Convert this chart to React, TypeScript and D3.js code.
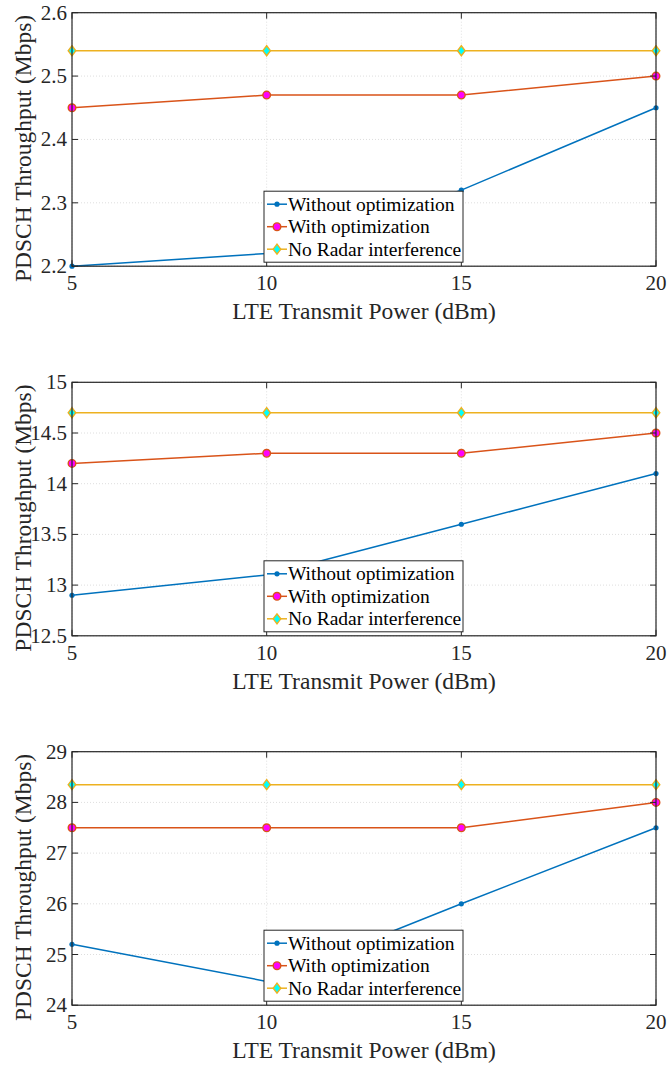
import React from 'react';
import * as d3 from 'd3';

// transmit power (dBm)
const powers = [5, 10, 15, 20];

// throughput per panel (Mbps)
const withoutOpt1 = [2.2, 2.22, 2.32, 2.45];
const withOpt1 = [2.45, 2.47, 2.47, 2.5];
const noRadar1 = [2.54, 2.54, 2.54, 2.54];

const withoutOpt2 = [12.9, 13.1, 13.6, 14.1];
const withOpt2 = [14.2, 14.3, 14.3, 14.5];
const noRadar2 = [14.7, 14.7, 14.7, 14.7];

const withoutOpt3 = [25.2, 24.47, 26, 27.5];
const withOpt3 = [27.5, 27.5, 27.5, 28];
const noRadar3 = [28.35, 28.35, 28.35, 28.35];

const yTicks1 = [2.2, 2.3, 2.4, 2.5, 2.6];
const yTicks2 = [12.5, 13, 13.5, 14, 14.5, 15];
const yTicks3 = [24, 25, 26, 27, 28, 29];

const seriesNames = ['Without optimization', 'With optimization', 'No Radar interference'];
const xLabel = 'LTE Transmit Power (dBm)';
const yLabel = 'PDSCH Throughput (Mbps)';

const BLUE = '#0072BD';
const ORANGE = '#D95319';
const YELLOW = '#EDB120';
const FONT = 'Liberation Serif';

const W = 668;
const H = 1067;
const left = 72;
const right = 656;
const plotH = 253.5;
const tops = [12.7, 382.3, 751.7];

const panels = [
  { top: tops[0], ticks: yTicks1, series: [withoutOpt1, withOpt1, noRadar1] },
  { top: tops[1], ticks: yTicks2, series: [withoutOpt2, withOpt2, noRadar2] },
  { top: tops[2], ticks: yTicks3, series: [withoutOpt3, withOpt3, noRadar3] },
];

const colors = [BLUE, ORANGE, YELLOW];

const Marker = ({ kind, x, y }: { kind: number; x: number; y: number }) => {
  if (kind === 0) return <circle cx={x} cy={y} r={2.6} fill={BLUE} />;
  if (kind === 1)
    return <circle cx={x} cy={y} r={3.8} fill="#ff00ff" stroke={ORANGE} strokeWidth={1.4} />;
  return (
    <path
      d={`M${x},${y - 5}L${x + 3.8},${y}L${x},${y + 5}L${x - 3.8},${y}Z`}
      fill="#00ffff"
      stroke={YELLOW}
      strokeWidth={1.4}
    />
  );
};

const txt = (size: number) => ({ fontFamily: FONT, fontSize: size + 'px' });

const Panel = ({ top, ticks, series }: { top: number; ticks: number[]; series: number[][] }) => {
  const bottom = top + plotH;
  const x = d3.scaleLinear().domain([5, 20]).range([left, right]);
  const y = d3.scaleLinear().domain(d3.extent(ticks) as [number, number]).range([bottom, top]);
  const line = d3
    .line<number>()
    .x((_, i) => x(powers[i]))
    .y((d) => y(d));

  const legTop = bottom - 75;
  const legBottom = bottom - 4;
  const legLeft = 264;
  const legRight = 463;

  return (
    <g>
      {/* grid */}
      {powers.map((p) => (
        <line key={'gx' + p} x1={x(p)} x2={x(p)} y1={top} y2={bottom} stroke="#dedede" strokeDasharray="1,2" />
      ))}
      {ticks.map((t) => (
        <line key={'gy' + t} x1={left} x2={right} y1={y(t)} y2={y(t)} stroke="#dedede" strokeDasharray="1,2" />
      ))}

      {/* series */}
      {series.map((s, k) => (
        <g key={'s' + k}>
          <path d={line(s) || ''} fill="none" stroke={colors[k]} strokeWidth={1.5} />
          {s.map((v, i) => (
            <Marker key={i} kind={k} x={x(powers[i])} y={y(v)} />
          ))}
        </g>
      ))}

      {/* box + ticks */}
      <rect x={left} y={top} width={right - left} height={plotH} fill="none" stroke="#262626" strokeWidth={1.2} />
      {powers.map((p) => (
        <g key={'tx' + p}>
          <line x1={x(p)} x2={x(p)} y1={bottom} y2={bottom - 6} stroke="#262626" />
          <line x1={x(p)} x2={x(p)} y1={top} y2={top + 6} stroke="#262626" />
          <text x={x(p)} y={bottom + 24} textAnchor="middle" style={txt(21)} fill="#262626">
            {p}
          </text>
        </g>
      ))}
      {ticks.map((t) => (
        <g key={'ty' + t}>
          <line x1={left} x2={left + 6} y1={y(t)} y2={y(t)} stroke="#262626" />
          <line x1={right} x2={right - 6} y1={y(t)} y2={y(t)} stroke="#262626" />
          <text x={left - 5} y={y(t) + 7} textAnchor="end" style={txt(21)} fill="#262626">
            {String(+t.toFixed(1))}
          </text>
        </g>
      ))}

      {/* axis labels */}
      <text x={(left + right) / 2} y={bottom + 53} textAnchor="middle" style={txt(23.5)} fill="#262626">
        {xLabel}
      </text>
      <text
        transform={`translate(31,${(top + bottom) / 2 + 9}) rotate(-90)`}
        textAnchor="middle"
        style={txt(23.5)}
        fill="#262626"
      >
        {yLabel}
      </text>

      {/* legend */}
      <rect x={legLeft} y={legTop} width={legRight - legLeft} height={legBottom - legTop} fill="#fff" stroke="#262626" strokeWidth={1} />
      {seriesNames.map((name, k) => {
        const ry = legTop + 13 + k * 22.5;
        return (
          <g key={'l' + k}>
            <line x1={legLeft + 3} x2={legLeft + 23} y1={ry} y2={ry} stroke={colors[k]} strokeWidth={1.5} />
            <Marker kind={k} x={legLeft + 13} y={ry} />
            <text x={legLeft + 24} y={ry + 6.5} style={txt(19.5)} fill="#000">
              {name}
            </text>
          </g>
        );
      })}
    </g>
  );
};

export default function App() {
  return (
    <svg
      width={W}
      height={H}
      viewBox={`0 0 ${W} ${H}`}
      style={{ position: 'absolute', left: 0, top: 0, display: 'block', background: '#fff' }}
    >
      <rect width={W} height={H} fill="#fff" />
      {panels.map((p, i) => (
        <Panel key={i} top={p.top} ticks={p.ticks} series={p.series} />
      ))}
    </svg>
  );
}
